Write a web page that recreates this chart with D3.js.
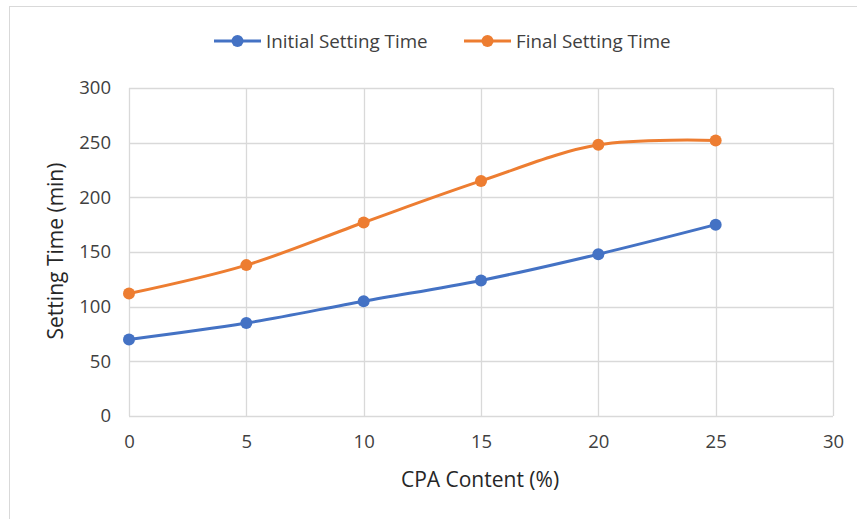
<!DOCTYPE html>
<html>
<head>
<meta charset="utf-8">
<script src="https://cdn.jsdelivr.net/npm/d3@7/dist/d3.min.js"></script>
<style>
  html, body { margin: 0; padding: 0; background: #fff; }
  svg { display: block; font-family: "Open Sans", Lato, "Liberation Sans", sans-serif; }
</style>
</head>
<body>
<svg id="chart" width="857" height="519"></svg>
<script>
// CPA content (%) on the x axis
const cpaContent = [0, 5, 10, 15, 20, 25];
// Setting times (min)
const initialSetting = [70, 85, 105, 124, 148, 175];
const finalSetting = [112, 138, 177, 215, 248, 252];
const seriesNames = ["Initial Setting Time", "Final Setting Time"];
const seriesColors = ["#4472C4", "#ED7D31"];
const xTicks = [0, 5, 10, 15, 20, 25, 30];
const yTicks = [0, 50, 100, 150, 200, 250, 300];

const svg = d3.select("#chart");
const W = 857, H = 519;
const plot = { left: 129, right: 833, top: 88, bottom: 416 };
const font = "'Open Sans', Lato, sans-serif";

// outer frame
svg.append("rect")
  .attr("x", 9.5).attr("y", 6.5)
  .attr("width", W + 10).attr("height", H + 10)
  .attr("fill", "#fff").attr("stroke", "#d9d9d9").attr("stroke-width", 1);

const x = d3.scaleLinear().domain([0, 30]).range([plot.left, plot.right]);
const y = d3.scaleLinear().domain([0, 300]).range([plot.bottom, plot.top]);

// gridlines
const grid = svg.append("g").attr("stroke", "#d9d9d9").attr("stroke-width", 1.3);
grid.selectAll("line.h").data(yTicks).join("line")
  .attr("x1", plot.left).attr("x2", plot.right)
  .attr("y1", d => Math.round(y(d)) + 0.5).attr("y2", d => Math.round(y(d)) + 0.5);
grid.selectAll("line.v").data(xTicks).join("line")
  .attr("y1", plot.top).attr("y2", plot.bottom)
  .attr("x1", d => Math.round(x(d)) + 0.5).attr("x2", d => Math.round(x(d)) + 0.5);

// axes (labels only, lines come from the grid)
const xAxis = svg.append("g")
  .attr("transform", `translate(0,${plot.bottom})`)
  .call(d3.axisBottom(x).tickValues(xTicks).tickSize(0).tickPadding(19));
const yAxis = svg.append("g")
  .attr("transform", `translate(${plot.left},0)`)
  .call(d3.axisLeft(y).tickValues(yTicks).tickSize(0).tickPadding(18));
[xAxis, yAxis].forEach(a => {
  a.select(".domain").remove();
  a.selectAll("text").attr("font-size", 18.5).attr("fill", "#404040")
    .attr("font-family", font);
});

// axis titles
svg.append("text")
  .attr("x", 480).attr("y", 487)
  .attr("text-anchor", "middle").attr("font-size", 21).attr("fill", "#262626")
  .text("CPA Content (%)");
svg.append("text")
  .attr("transform", `translate(63,251) rotate(-90)`)
  .attr("text-anchor", "middle").attr("font-size", 21).attr("fill", "#262626")
  .text("Setting Time (min)");

// series
const series = [initialSetting, finalSetting];
const line = d3.line()
  .x((d, i) => x(cpaContent[i]))
  .y(d => y(d))
  .curve(d3.curveCatmullRom);

series.forEach((vals, s) => {
  svg.append("path")
    .datum(vals)
    .attr("d", line)
    .attr("fill", "none")
    .attr("stroke", seriesColors[s])
    .attr("stroke-width", 3)
    .attr("stroke-linecap", "round");
  svg.append("g").selectAll("circle").data(vals).join("circle")
    .attr("cx", (d, i) => x(cpaContent[i]))
    .attr("cy", d => y(d))
    .attr("r", 6)
    .attr("fill", seriesColors[s]);
});

// legend
const legendItems = [{ x: 214 }, { x: 464 }];
legendItems.forEach((item, s) => {
  const g = svg.append("g").attr("transform", `translate(${item.x},41)`);
  g.append("line").attr("x1", 0).attr("x2", 47).attr("y1", 0).attr("y2", 0)
    .attr("stroke", seriesColors[s]).attr("stroke-width", 3);
  g.append("circle").attr("cx", 23.5).attr("cy", 0).attr("r", 6).attr("fill", seriesColors[s]);
  g.append("text").attr("x", 52).attr("y", 0).attr("dy", "0.35em")
    .attr("font-size", 18.8).attr("fill", "#404040").text(seriesNames[s]);
});
</script>
</body>
</html>
